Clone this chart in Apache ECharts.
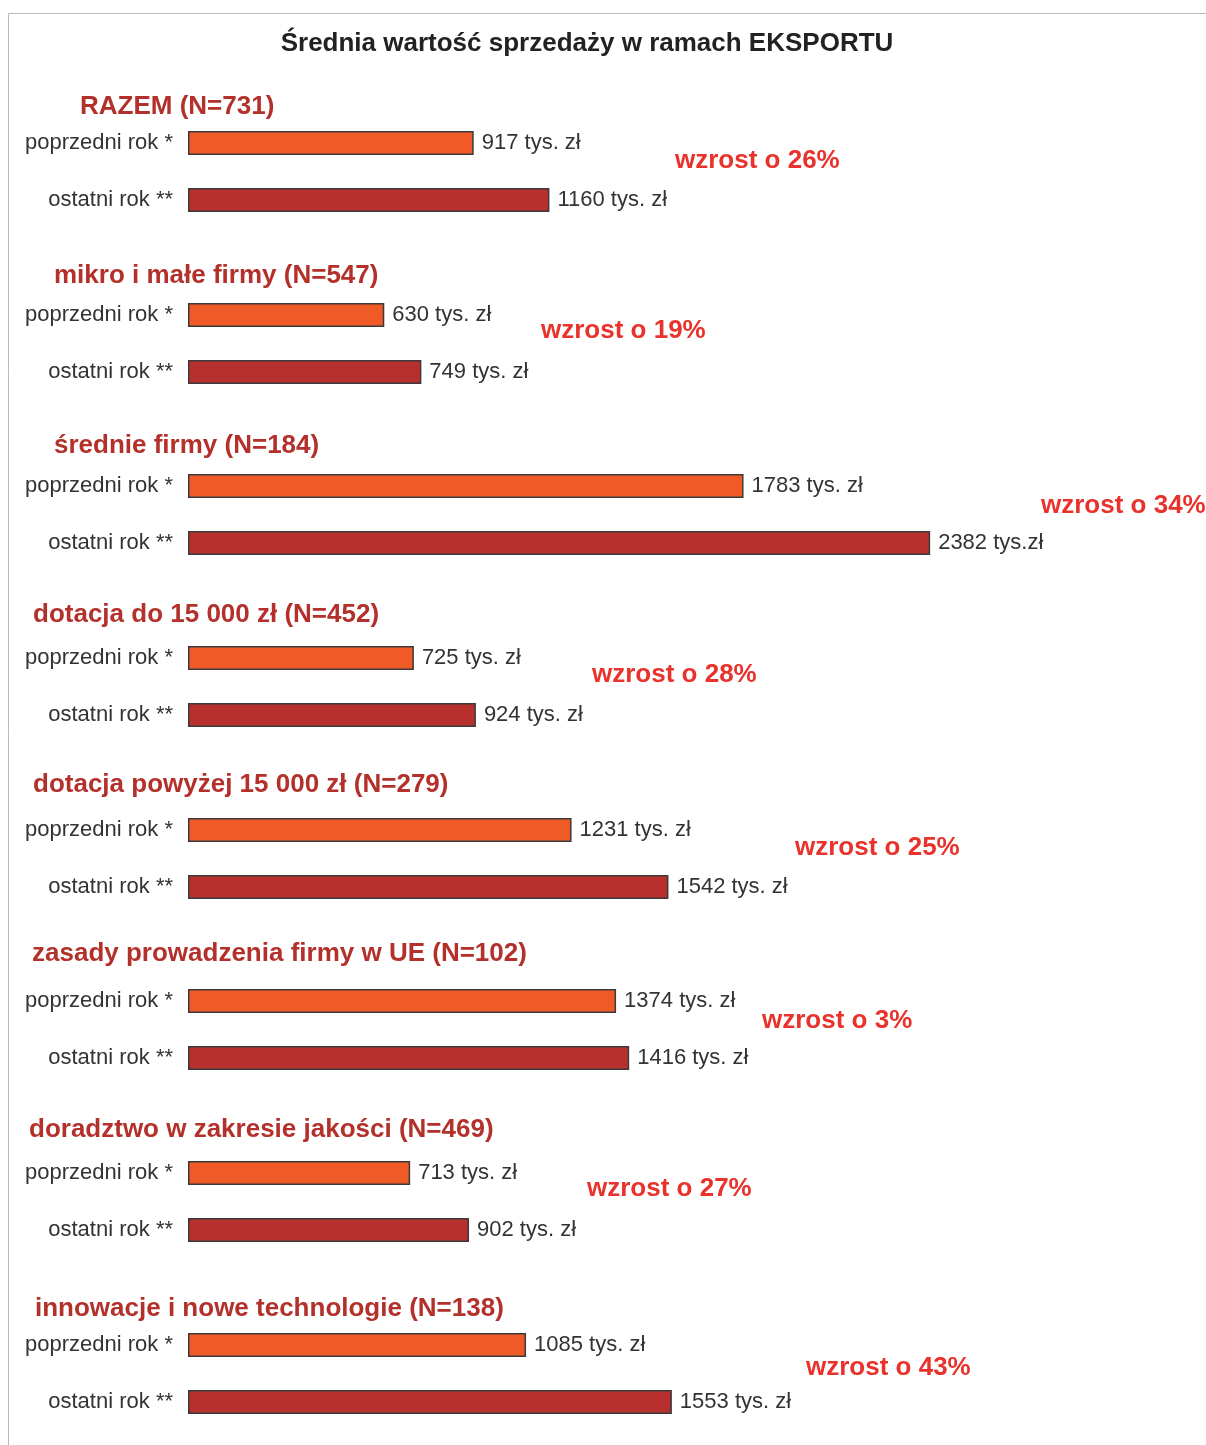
<!DOCTYPE html>
<html>
<head>
<meta charset="utf-8">
<script src="https://cdn.jsdelivr.net/npm/echarts@6/dist/echarts.min.js"></script>
<style>
  html, body { margin: 0; padding: 0; background: #fff; }
  #chart { width: 1206px; height: 1445px; }
</style>
</head>
<body>
<div id="chart"></div>
<script>
// data
var groupNames = [
  'RAZEM (N=731)',
  'mikro i małe firmy (N=547)',
  'średnie firmy (N=184)',
  'dotacja do 15 000 zł (N=452)',
  'dotacja powyżej 15 000 zł (N=279)',
  'zasady prowadzenia firmy w UE (N=102)',
  'doradztwo w zakresie jakości (N=469)',
  'innowacje i nowe technologie (N=138)'
];
var rowNames = ['poprzedni rok *', 'ostatni rok **'];
var prevYear = [917, 630, 1783, 725, 1231, 1374, 713, 1085];
var lastYear = [1160, 749, 2382, 924, 1542, 1416, 902, 1553];
var growth = [26, 19, 34, 28, 25, 3, 27, 43];

// layout
var font = '"Liberation Sans", Arial, sans-serif';
var barCenters = [143, 315, 486, 658, 830, 1001, 1173, 1345];
var titlePos = [[80,107],[54,276],[54,446],[33,615],[33,785],[32,954],[29,1130],[35,1309]];
var growthPos = [[675,161],[541,331],[1041,506],[592,675],[795,848],[762,1021],[587,1189],[806,1368]];
var colPrev = '#ef5a27', colLast = '#b8302d';

var grids = [], xAxes = [], yAxes = [], series = [];
var graphics = [
  { type: 'polyline', shape: { points: [[8.5,1445],[8.5,13.5],[1206,13.5]] },
    style: { stroke: '#b9b9b9', lineWidth: 1, fill: null } },
  { type: 'text', x: 587, y: 44, style: { text: 'Średnia wartość sprzedaży w ramach EKSPORTU',
    font: 'bold 26px ' + font, fill: '#222', align: 'center', verticalAlign: 'middle' } }
];

groupNames.forEach(function (name, i) {
  grids.push({ left: 188, width: 997, top: barCenters[i] - 28.5, height: 114 });
  xAxes.push({ gridIndex: i, type: 'value', min: 0, max: 3200, show: false });
  yAxes.push({
    gridIndex: i, type: 'category', inverse: true, data: rowNames,
    axisLine: { show: false }, axisTick: { show: false },
    axisLabel: { fontSize: 22, color: '#333', margin: 15, fontFamily: font }
  });
  series.push({
    type: 'bar', xAxisIndex: i, yAxisIndex: i, barWidth: 24,
    itemStyle: { borderColor: '#3a3a3a', borderWidth: 1.5 },
    data: [
      { value: prevYear[i], itemStyle: { color: colPrev } },
      { value: lastYear[i], itemStyle: { color: colLast } }
    ],
    label: {
      show: true, position: 'right', distance: 8, fontSize: 22, color: '#333', fontFamily: font,
      formatter: function (p) {
        return p.value + (i === 2 && p.dataIndex === 1 ? ' tys.zł' : ' tys. zł');
      }
    },
    animation: false
  });
  graphics.push({ type: 'text', x: titlePos[i][0], y: titlePos[i][1],
    style: { text: name, font: 'bold 26px ' + font, fill: '#b3302b', verticalAlign: 'middle' } });
  graphics.push({ type: 'text', x: growthPos[i][0], y: growthPos[i][1],
    style: { text: 'wzrost o ' + growth[i] + '%', font: 'bold 26px ' + font, fill: '#e8322b', verticalAlign: 'middle' } });
});

var chart = echarts.init(document.getElementById('chart'));
chart.setOption({
  backgroundColor: '#fff',
  animation: false,
  grid: grids,
  xAxis: xAxes,
  yAxis: yAxes,
  series: series,
  graphic: graphics
});
</script>
</body>
</html>
